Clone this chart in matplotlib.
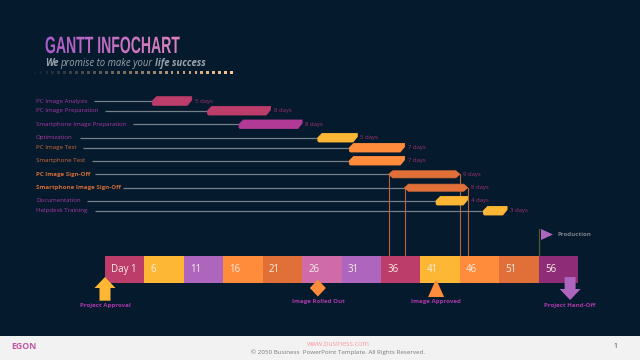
"""Gantt infochart slide, drawn on a dark page with a day strip below the tasks."""
import matplotlib
matplotlib.use("Agg")
import matplotlib.pyplot as plt
import numpy as np
from matplotlib.colors import to_hex, to_rgb
from matplotlib.patches import Polygon, Rectangle
from matplotlib.patheffects import AbstractPathEffect
from matplotlib.transforms import Affine2D, Bbox

plt.rcParams["font.family"] = ["Open Sans", "DejaVu Sans"]

tasks = [
    "PC Image Analysis", "PC Image Preparation", "Smartphone Image Preparation",
    "Optimization", "PC Image Test", "Smartphone Test", "PC Image Sign-Off",
    "Smartphone Image Sign-Off", "Documentation", "Helpdesk Training",
]
start_days = [7, 14, 18, 28, 32, 32, 37, 39, 43, 49]
durations = [5, 8, 8, 5, 7, 7, 9, 8, 4, 3]
strip_days = [1, 6, 11, 16, 21, 26, 31, 36, 41, 46, 51, 56]
strip_labels = ["Day 1", "6", "11", "16", "21", "26", "31", "36", "41", "46", "51", "56"]

# Layout, in reference pixels.
W, H = 640, 360
STRIP_LEFT, STRIP_RIGHT = 105, 578
row_y = [101, 110.7, 124.3, 137.7, 147.7, 160.7, 174.3, 187.7, 200.7, 210.7]
leader_x = [94, 105, 133, 80, 83, 92, 95, 123, 87, 95]

BG = "#051A2C"
ROSE, AMBER, LILAC = "#BC3C6A", "#FDB735", "#AE65BE"
ORANGE, RUST, PINK, PLUM = "#FF8C3A", "#E07038", "#CF6BA9", "#8E2C77"
MAGENTA = "#B03A96"
bar_colors = [ROSE, ROSE, MAGENTA, AMBER, ORANGE, ORANGE, RUST, RUST, AMBER, AMBER]
label_colors = ["#A838A8"] * 4 + ["#D06A35"] * 4 + ["#A838A8"] * 2
strip_colors = [ROSE, AMBER, LILAC, ORANGE, RUST, PINK, LILAC, ROSE, AMBER, ORANGE, RUST, PLUM]
LABEL_PURPLE = "#A838A8"
DAY_TEXT = "#A0346F"
LEADER = "#75808B"


class SqueezedGradient(AbstractPathEffect):
    """Narrow a text horizontally and fill it with a left-to-right colour ramp."""

    def __init__(self, squeeze, left, right, bands=70):
        super().__init__()
        self.squeeze = squeeze
        self.left, self.right = np.array(to_rgb(left)), np.array(to_rgb(right))
        self.bands = bands

    def draw_path(self, renderer, gc, tpath, affine, rgbFace=None):
        full = Affine2D().scale(self.squeeze, 1) + affine
        box = tpath.get_extents(full)
        edges = np.linspace(np.floor(box.x0), np.ceil(box.x1), self.bands + 1)
        for i in range(self.bands):
            gc0 = renderer.new_gc()
            gc0.copy_properties(gc)
            gc0.set_clip_rectangle(Bbox([[edges[i], box.y0 - 2], [edges[i + 1], box.y1 + 2]]))
            color = self.left + (self.right - self.left) * i / (self.bands - 1)
            renderer.draw_path(gc0, tpath, full, tuple(color))
            gc0.restore()


fig = plt.figure(figsize=(W / 100, H / 100), dpi=100, facecolor=BG)

# page: plain pixel coordinates. gantt: days on x, pixels on y.
page = fig.add_axes([0, 0, 1, 1], zorder=1)
page.set_xlim(0, W)
page.set_ylim(H, 0)
page.axis("off")

px_per_day = (STRIP_RIGHT - STRIP_LEFT) / 60
gantt = fig.add_axes([0, 0, 1, 1], zorder=2)
gantt.set_xlim(1 - STRIP_LEFT / px_per_day, 1 + (W - STRIP_LEFT) / px_per_day)
gantt.set_ylim(H, 0)
gantt.axis("off")
gantt.patch.set_alpha(0)

renderer = fig.canvas.get_renderer()


def text_width(t):
    return t.get_window_extent(renderer).width


def blend(c1, c2, n):
    a, b = np.array(to_rgb(c1)), np.array(to_rgb(c2))
    return [to_hex(a + (b - a) * i / max(n - 1, 1)) for i in range(n)]


# Title, purple drifting to pink, squeezed to the condensed look of the slide.
title = page.text(45, 53, "GANTT INFOCHART", fontsize=17, family="Liberation Sans",
                  fontweight="bold", va="baseline", color="#B868C6")
title.set_path_effects([SqueezedGradient(135 / text_width(title), "#A95CC8", "#DB82BE")])

# Subtitle runs through three weights, so chain the pieces by measured width.
sub_x = 45
for piece, weight in [("We ", "bold"), ("promise to make your ", "normal"), ("life success", "bold")]:
    t = page.text(sub_x, 66, piece.strip(), color="#9AA3A9", fontsize=6.85, fontweight=weight,
                  fontstyle="italic", va="baseline")
    gap = 2.0 if piece.endswith(" ") else 0
    sub_x += text_width(t) + gap

dot_x = np.arange(35, 234, 5.96)
page.scatter(dot_x, [72.3] * len(dot_x), s=4, marker="s", linewidths=0,
             c=blend("#0E2233", "#FFC78E", len(dot_x)))

# Footer band.
page.add_patch(Rectangle((0, 336), W, 24, facecolor="#F2F2F2", edgecolor="none"))
page.text(11.5, 346.5, "EGON", color="#C455A6", fontsize=6.3, fontweight="bold", va="center")
page.text(338, 344, "www.business.com", color="#FF9CA3", fontsize=5.0, ha="center", va="center")
page.text(338, 352.5, "© 2050 Business  PowerPoint Template. All Rights Reserved.",
          color="#7A7A7A", fontsize=4.5, ha="center", va="center")
page.text(615, 347, "1", color="#444444", fontsize=5, ha="center", va="center")

# Task rows.
for i, name in enumerate(tasks):
    y = row_y[i]
    x0, x1 = start_days[i], start_days[i] + durations[i]
    signoff = "Sign-Off" in name
    page.text(36, y, name, color=label_colors[i], fontsize=4.4, va="center",
              fontweight="bold" if signoff else "normal")
    page.plot([leader_x[i], STRIP_LEFT + (x0 - 1) * px_per_day], [y, y],
              color=LEADER, lw=0.9, solid_capstyle="butt")
    if signoff:
        h, tip = 3.5, 0.25
        pts = [(x0, y), (x0 + tip * 2, y - h), (x1 - tip * 2, y - h), (x1, y),
               (x1 - tip * 2, y + h), (x0 + tip * 2, y + h)]
        for xv in (x0, x1):
            gantt.plot([xv, xv], [y, 256], color="#B9633A", lw=0.8, zorder=1)
    else:
        h, cut = 4.3, 0.55
        pts = [(x0, y), (x0 + cut, y - h), (x1, y - h), (x1, y - 1),
               (x1 - cut, y + h), (x0 + 0.15, y + h), (x0, y + h - 1)]
    gantt.add_patch(Polygon(pts, closed=True, facecolor=bar_colors[i], edgecolor=bar_colors[i],
                            lw=0.6, joinstyle="round", zorder=3))
    gantt.annotate(f"{durations[i]} days", (x1, y), xytext=(2.2, 0), textcoords="offset points",
                   color=DAY_TEXT, fontsize=4.3, va="center")

# Day strip.
for day, label, color in zip(strip_days, strip_labels, strip_colors):
    gantt.add_patch(Rectangle((day, 256), 5, 27.3, facecolor=color, edgecolor="none", zorder=2))
    gantt.annotate(label, (day, 269.8), xytext=(4.6, 0), textcoords="offset points",
                   color="#F7EDE6", fontsize=7.0, va="center", zorder=4)

# Milestones.
gantt.plot([56, 56], [229, 256], color="#4B5A28", lw=0.9, zorder=1)
page.add_patch(Polygon([(541, 229), (553, 234.5), (541, 240)], facecolor=LILAC, edgecolor="none"))
page.text(557.5, 234.3, "Production", color="#7C8287", fontsize=4.4, fontweight="bold", va="center")

up_arrow = [(0, 277), (10.5, 288), (5.5, 288), (5.5, 300.7), (-5.5, 300.7), (-5.5, 288), (-10.5, 288)]
down_arrow = [(-5.5, 277), (5.5, 277), (5.5, 289), (10.5, 289), (0, 300), (-10.5, 289), (-5.5, 289)]
gantt.add_patch(Polygon([(1 + dx / px_per_day, y) for dx, y in up_arrow],
                        facecolor=AMBER, edgecolor="none", zorder=5))
gantt.add_patch(Polygon([(60 + dx / px_per_day, y) for dx, y in down_arrow],
                        facecolor=LILAC, edgecolor="none", zorder=5))
gantt.add_patch(Polygon([(28 + dx / px_per_day, y) for dx, y in
                         [(0, 279.5), (8, 288), (0, 296.5), (-8, 288)]],
                        facecolor=ORANGE, edgecolor="none", zorder=5))
gantt.add_patch(Polygon([(43 + dx / px_per_day, y) for dx, y in
                         [(0, 279), (8, 297), (-8, 297)]],
                        facecolor=ORANGE, edgecolor="none", zorder=5))

for x, y, text in [(105, 305, "Project Approval"), (318, 301.3, "Image Rolled Out"),
                   (436, 301.3, "Image Approved"), (570, 305, "Project Hand-Off")]:
    page.text(x, y, text, color=LABEL_PURPLE, fontsize=4.4, fontweight="bold", ha="center", va="center")

fig.savefig("out.png", dpi=100, facecolor=BG)
plt.close(fig)
